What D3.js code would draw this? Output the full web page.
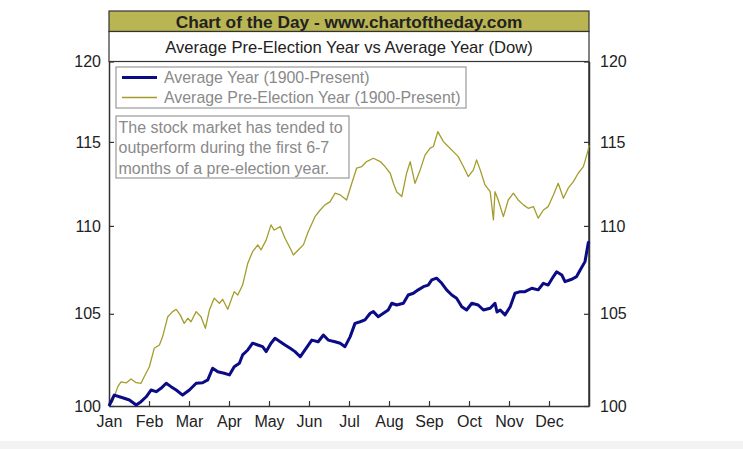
<!DOCTYPE html>
<html>
<head>
<meta charset="utf-8">
<script src="https://cdn.jsdelivr.net/npm/d3@7"></script>
<style>
  html, body { margin: 0; padding: 0; background: #fff; }
  svg { display: block; font-family: "Liberation Sans", Arial, sans-serif; }
</style>
</head>
<body>
<div id="chart"></div>
<script>
// ---- data (month = fraction of the year in months, value = Dow indexed to 100) ----
var months = ["Jan", "Feb", "Mar", "Apr", "May", "Jun", "Jul", "Aug", "Sep", "Oct", "Nov", "Dec"];
var yTicks = [100, 105, 110, 115, 120];

var avgYearM = [0, 0.13, 0.26, 0.38, 0.51, 0.68, 0.80, 0.93, 1.05, 1.18, 1.30, 1.43, 1.55, 1.68, 1.84, 2.01,
  2.18, 2.34, 2.47, 2.59, 2.72, 2.88, 3.01, 3.13, 3.26, 3.34, 3.47, 3.59, 3.72, 3.84, 3.93, 4.05, 4.15,
  4.28, 4.40, 4.53, 4.65, 4.78, 4.90, 5.07, 5.23, 5.36, 5.48, 5.65, 5.78, 5.90, 6.03, 6.15, 6.28, 6.40,
  6.53, 6.61, 6.73, 6.86, 6.98, 7.07, 7.19, 7.36, 7.48, 7.61, 7.73, 7.86, 7.98, 8.07, 8.19, 8.32, 8.44,
  8.57, 8.69, 8.82, 8.94, 9.07, 9.23, 9.36, 9.53, 9.65, 9.70, 9.78, 9.90, 10.03, 10.15, 10.28, 10.40,
  10.57, 10.73, 10.86, 10.98, 11.11, 11.19, 11.32, 11.40, 11.57, 11.69, 11.78, 11.90, 11.98, 12.0];
var avgYearV = [100.00, 100.58, 100.49, 100.41, 100.32, 100.05, 100.23, 100.49, 100.85, 100.76, 100.94,
  101.21, 101.03, 100.85, 100.58, 100.85, 101.21, 101.24, 101.39, 102.02, 101.83, 101.75, 101.66, 102.10,
  102.29, 102.74, 103.01, 103.38, 103.28, 103.19, 102.92, 103.38, 103.65, 103.46, 103.28, 103.10, 102.92,
  102.64, 103.01, 103.55, 103.46, 103.83, 103.55, 103.46, 103.38, 103.19, 103.74, 104.47, 104.56, 104.66,
  105.03, 105.12, 104.84, 105.03, 105.21, 105.59, 105.49, 105.59, 106.05, 106.15, 106.34, 106.52, 106.61,
  106.90, 107.00, 106.71, 106.34, 106.05, 105.87, 105.39, 105.21, 105.59, 105.49, 105.21, 105.31, 105.59,
  105.10, 105.21, 104.94, 105.39, 106.15, 106.24, 106.24, 106.43, 106.34, 106.71, 106.61, 107.09, 107.36,
  107.18, 106.80, 106.94, 107.09, 107.46, 107.94, 109.00, 109.10];

var preElecM = [0, 0.09, 0.22, 0.30, 0.43, 0.55, 0.68, 0.80, 0.88, 1.01, 1.13, 1.26, 1.34, 1.47, 1.59, 1.68,
  1.78, 1.88, 1.97, 2.05, 2.18, 2.30, 2.41, 2.51, 2.63, 2.76, 2.84, 2.97, 3.13, 3.22, 3.34, 3.47, 3.59,
  3.72, 3.80, 3.93, 4.05, 4.13, 4.28, 4.40, 4.53, 4.61, 4.73, 4.86, 4.98, 5.15, 5.28, 5.40, 5.53, 5.65,
  5.78, 5.94, 6.07, 6.19, 6.32, 6.44, 6.61, 6.78, 6.90, 7.03, 7.11, 7.19, 7.32, 7.44, 7.53, 7.65, 7.78,
  7.90, 8.03, 8.11, 8.22, 8.36, 8.48, 8.61, 8.73, 8.86, 8.98, 9.11, 9.19, 9.28, 9.40, 9.53, 9.61, 9.65,
  9.73, 9.86, 9.98, 10.11, 10.23, 10.36, 10.48, 10.61, 10.73, 10.86, 10.98, 11.11, 11.23, 11.36, 11.48,
  11.61, 11.73, 11.86, 11.98, 12.0];
var preElecV = [100.00, 100.23, 101.03, 101.29, 101.23, 101.44, 101.24, 101.21, 101.56, 102.10, 103.10,
  103.28, 103.74, 104.84, 105.12, 105.25, 104.94, 104.47, 104.75, 104.56, 105.12, 104.84, 104.20, 105.21,
  105.87, 105.59, 105.81, 105.25, 106.24, 106.05, 106.61, 107.85, 108.51, 108.90, 108.61, 109.19, 110.06,
  109.76, 109.96, 109.28, 108.71, 108.32, 108.61, 108.90, 109.66, 110.54, 110.93, 111.23, 111.42, 111.92,
  111.82, 111.52, 112.51, 113.41, 113.51, 113.81, 114.01, 113.81, 113.51, 113.11, 112.51, 112.01, 111.72,
  113.11, 113.81, 112.51, 113.31, 114.20, 114.62, 114.72, 115.63, 115.02, 114.72, 114.41, 114.11, 113.51,
  112.91, 113.31, 113.91, 113.31, 112.41, 112.01, 110.35, 112.01, 111.52, 110.54, 111.52, 111.92, 111.52,
  111.23, 111.03, 111.13, 110.45, 110.93, 111.13, 111.82, 112.51, 111.62, 112.22, 112.61, 113.11, 113.51,
  114.52, 114.80];

var titleText = "Chart of the Day - www.chartoftheday.com";
var subtitleText = "Average Pre-Election Year vs Average Year (Dow)";
var legendLabels = ["Average Year (1900-Present)", "Average Pre-Election Year (1900-Present)"];
var noteLines = ["The stock market has tended to", "outperform during the first 6-7", "months of a pre-election year."];

(function () {
  "use strict";
  var W = 743, H = 449;
  var L = 109, R = 589, T = 61.5, B = 406;   // plot box
  var NAVY = "#0b0b85", OLIVE = "#a49d2c", BAND = "#b9b553", INK = "#222", FRAME = "#333", NOTE = "#8a8a8a";

  var svg = d3.select("#chart").append("svg").attr("width", W).attr("height", H);
  svg.append("rect").attr("width", W).attr("height", H).attr("fill", "#fff");
  svg.append("rect").attr("x", 0).attr("y", 441).attr("width", W).attr("height", H - 441).attr("fill", "#f3f3f3");

  var x = d3.scaleLinear().domain([0, 12]).range([L, R]);
  var y = d3.scaleLog().domain([100, 120]).range([B, T]);

  // ---- header: olive title band + white subtitle band ----
  svg.append("rect").attr("x", L).attr("y", 11).attr("width", R - L).attr("height", 20.5)
    .attr("fill", BAND).attr("stroke", FRAME).attr("stroke-width", 1.2);
  svg.append("rect").attr("x", L).attr("y", 31.5).attr("width", R - L).attr("height", T - 31.5)
    .attr("fill", "#fff").attr("stroke", FRAME).attr("stroke-width", 1.2);
  svg.append("text").attr("x", (L + R) / 2).attr("y", 27.5).attr("text-anchor", "middle")
    .attr("font-size", 17.3).attr("font-weight", 700).attr("fill", INK).text(titleText);
  svg.append("text").attr("x", (L + R) / 2).attr("y", 52.5).attr("text-anchor", "middle")
    .attr("font-size", 16.6).attr("fill", INK).text(subtitleText);

  // ---- axes (ticks point inward) ----
  function styleAxis(sel) {
    sel.selectAll("path").attr("stroke", FRAME).attr("stroke-width", 1.5);
    sel.selectAll("line").attr("stroke", FRAME).attr("stroke-width", 1.2);
    sel.selectAll("text").attr("font-size", 16).attr("fill", INK).attr("font-family", "Liberation Sans, Arial, sans-serif");
  }
  svg.append("g").attr("transform", "translate(" + L + ",0)")
    .call(d3.axisLeft(y).tickValues(yTicks).tickFormat(d3.format("d")).tickSizeInner(-5).tickSizeOuter(0).tickPadding(8))
    .call(styleAxis);
  svg.append("g").attr("transform", "translate(" + R + ",0)")
    .call(d3.axisRight(y).tickValues(yTicks).tickFormat(d3.format("d")).tickSizeInner(-5).tickSizeOuter(0).tickPadding(11))
    .call(styleAxis);
  svg.append("g").attr("transform", "translate(0," + B + ")")
    .call(d3.axisBottom(x).tickValues(d3.range(12)).tickFormat(function (d) { return months[d]; })
      .tickSizeInner(-5).tickSizeOuter(0).tickPadding(10))
    .call(styleAxis);
  // right frame edge of the plot
  svg.append("line").attr("x1", R).attr("x2", R).attr("y1", T).attr("y2", B)
    .attr("stroke", FRAME).attr("stroke-width", 1.5);

  // ---- series ----
  function toPts(ms, vs) { return ms.map(function (m, i) { return [m, vs[i]]; }); }
  var line = d3.line().x(function (d) { return x(d[0]); }).y(function (d) { return y(d[1]); });
  svg.append("path").datum(toPts(preElecM, preElecV)).attr("d", line)
    .attr("fill", "none").attr("stroke", OLIVE).attr("stroke-width", 1.3).attr("stroke-linejoin", "round");
  svg.append("path").datum(toPts(avgYearM, avgYearV)).attr("d", line)
    .attr("fill", "none").attr("stroke", NAVY).attr("stroke-width", 3).attr("stroke-linejoin", "round");

  // ---- legend ----
  var lg = svg.append("g");
  lg.append("rect").attr("x", 116).attr("y", 67).attr("width", 350).attr("height", 41)
    .attr("fill", "#fff").attr("stroke", "#999").attr("stroke-width", 1.2);
  [[NAVY, 3], [OLIVE, 1.3]].forEach(function (s, i) {
    var cy = 77.5 + i * 20;
    lg.append("line").attr("x1", 122).attr("x2", 157).attr("y1", cy).attr("y2", cy)
      .attr("stroke", s[0]).attr("stroke-width", s[1]);
    lg.append("text").attr("x", 164).attr("y", cy).attr("dy", "0.35em")
      .attr("font-size", 15.9).attr("fill", NOTE).text(legendLabels[i]);
  });

  // ---- note box ----
  var nb = svg.append("g");
  nb.append("rect").attr("x", 116).attr("y", 116).attr("width", 233).attr("height", 62)
    .attr("fill", "#fff").attr("stroke", "#999").attr("stroke-width", 1.2);
  nb.selectAll("text").data(noteLines).enter().append("text")
    .attr("x", 118.5).attr("y", function (d, i) { return 127 + i * 20.5; }).attr("dy", "0.35em")
    .attr("font-size", 16).attr("fill", NOTE).text(function (d) { return d; });
})();
</script>
</body>
</html>
